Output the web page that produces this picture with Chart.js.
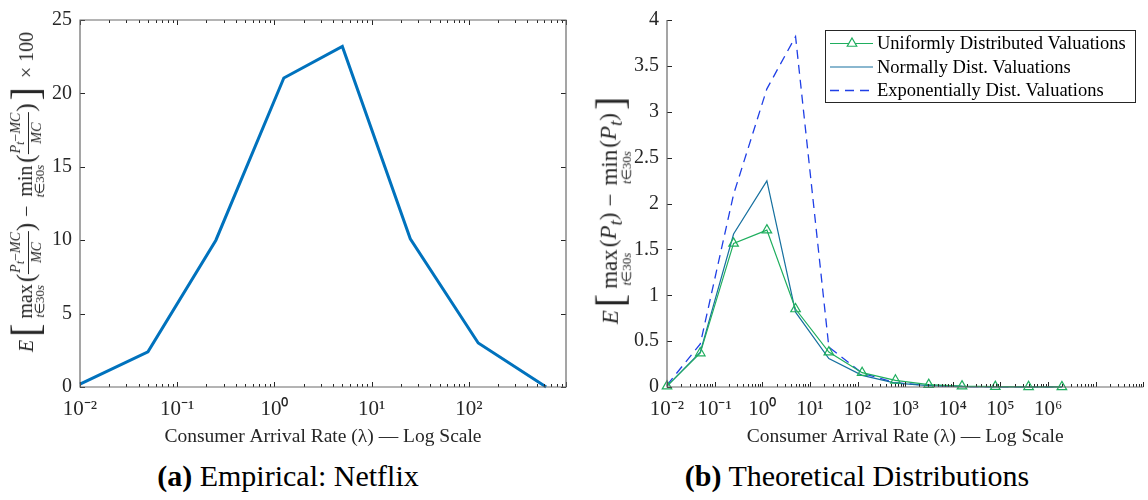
<!DOCTYPE html>
<html>
<head>
<meta charset="utf-8">
<script src="https://cdn.jsdelivr.net/npm/chart.js@4.4.0/dist/chart.umd.min.js"></script>
<style>
  body { margin: 0; width: 1148px; height: 500px; overflow: hidden; background: #fff; position: relative;
         font-family: 'Liberation Serif', serif; color: #262626; }
  .box { position: absolute; top: 0; height: 455px; }
  #boxA { left: 0; width: 574px; }
  #boxB { left: 574px; width: 576px; }
  .ylab { position: absolute; white-space: nowrap; display: flex; align-items: center; font-size: 20px;
          transform: translate(-50%, -50%) rotate(-90deg); }
  .op { display: inline-flex; flex-direction: column; align-items: center; line-height: 0.9; margin: 10px 2px 0 2px; }
  .lim { font-size: 13px; }
  .frac { display: inline-flex; flex-direction: column; align-items: center; font-size: 14px; line-height: 1.1; }
  .num { border-bottom: 1px solid #262626; padding: 0 1px; }
  .par { font-size: 25px; }
  .brk { font-size: 40px; line-height: 1; margin: 0 3px; }
  .sp { margin: 0 6px; }
  .r2 { font-size: 23px; }
  .cap { position: absolute; transform: translate(-50%, -50%); font-size: 30px; white-space: nowrap; color: #000; }
</style>
</head>
<body>
<div class="box" id="boxA"><canvas id="chartNetflix"></canvas></div>
<div class="box" id="boxB"><canvas id="chartTheory"></canvas></div>

<div class="ylab" style="left:26px;top:189px">
  <i>E</i><span class="brk">[</span>
  <span class="op">max<span class="lim"><i>t</i>∈30<i>s</i></span></span>
  <span class="par">(</span><span class="frac"><span class="num"><i>P<sub>t</sub></i>−<i>MC</i></span><span><i>MC</i></span></span><span class="par">)</span>
  <span class="sp">−</span>
  <span class="op">min<span class="lim"><i>t</i>∈30<i>s</i></span></span>
  <span class="par">(</span><span class="frac"><span class="num"><i>P<sub>t</sub></i>−<i>MC</i></span><span><i>MC</i></span></span><span class="par">)</span>
  <span class="brk">]</span><span class="sp">× 100</span>
</div>

<div class="ylab r2" style="left:611px;top:209px">
  <i>E</i><span class="brk">[</span>
  <span class="op">max<span class="lim"><i>t</i>∈30<i>s</i></span></span>
  <span>(<i>P<sub>t</sub></i>)</span>
  <span class="sp">−</span>
  <span class="op">min<span class="lim"><i>t</i>∈30<i>s</i></span></span>
  <span>(<i>P<sub>t</sub></i>)</span>
  <span class="brk">]</span>
</div>

<div class="cap" style="left:288px;top:476px"><b>(a)</b> Empirical: Netflix</div>
<div class="cap" style="left:857px;top:476px"><b>(b)</b> Theoretical Distributions</div>

<script>
const netflixRate = [0.01, 0.05, 0.25, 1.25, 5, 25, 125, 625];
const netflixSpread = [0.2, 2.4, 10.0, 21.05, 23.2, 10.1, 3.0, 0.0];

const theoryRate = [0.01, 0.05, 0.25, 1.25, 5, 25, 125, 625, 3125, 15625, 78125, 390625, 1953125];
const uniformSpread = [0.01, 0.37, 1.565, 1.71, 0.85, 0.38, 0.156, 0.073, 0.026, 0.009, 0.004, 0.002, 0.001];
const normalSpread = [0.01, 0.38, 1.667, 2.247, 0.815, 0.31, 0.127, 0.043, 0.015, 0.005, 0.002, 0.001, 0.0005];
const exponentialSpread = [0.02, 0.47, 2.1, 3.25, 3.82, 0.435, 0.15, 0.048, 0.017, 0.006, 0.002, 0.001, 0.0005];
const seriesNames = ["Uniformly Distributed Valuations", "Normally Dist. Valuations", "Exponentially Dist. Valuations"];

const xTickExpA = [-2, -1, 0, 1, 2];
const xTickExpB = [-2, -1, 0, 1, 2, 3, 4, 5, 6];
const yTicksA = [0, 5, 10, 15, 20, 25];
const yTicksB = [0, 0.5, 1, 1.5, 2, 2.5, 3, 3.5, 4];
const xTitle = "Consumer Arrival Rate (λ) — Log Scale";

Chart.defaults.font.family = "'Liberation Serif', serif";
Chart.defaults.color = "#262626";

const supMap = { "-": "⁻", "0": "⁰", "1": "¹", "2": "²", "3": "³", "4": "⁴", "5": "⁵", "6": "⁶", "7": "⁷", "8": "⁸", "9": "⁹" };
const powLabel = (v) => "10" + String(Math.round(Math.log10(v))).split("").map(c => supMap[c]).join("");
const pair = (xs, ys) => xs.map((x, i) => ({ x: x, y: ys[i] }));

// matlab-like inward ticks, minor ticks on the log axis, optional box
const inwardTicks = {
  id: "inwardTicks",
  afterDraw(chart, args, opts) {
    const { ctx, chartArea: a, scales: { x, y } } = chart;
    ctx.save();
    ctx.strokeStyle = "#262626";
    ctx.lineWidth = 1;
    ctx.beginPath();
    const e0 = Math.floor(Math.log10(x.min)), e1 = Math.ceil(Math.log10(x.max));
    for (let e = e0; e <= e1; e++) {
      for (let m = 1; m <= 9; m++) {
        const v = m * Math.pow(10, e);
        if (v < x.min * 0.999 || v > x.max * 1.001) continue;
        const px = Math.round(x.getPixelForValue(v)) + 0.5;
        const len = m === 1 ? 5 : 3;
        ctx.moveTo(px, a.bottom); ctx.lineTo(px, a.bottom - len);
        if (opts.box) { ctx.moveTo(px, a.top); ctx.lineTo(px, a.top + len); }
      }
    }
    y.ticks.forEach(t => {
      const py = Math.round(y.getPixelForValue(t.value)) + 0.5;
      ctx.moveTo(a.left, py); ctx.lineTo(a.left + 5, py);
      if (opts.box) { ctx.moveTo(a.right, py); ctx.lineTo(a.right - 5, py); }
    });
    ctx.stroke();
    ctx.strokeStyle = "#6a6a6a";
    ctx.lineWidth = 1.2;
    ctx.beginPath();
    if (opts.box) {
      ctx.rect(a.left, a.top, a.right - a.left, a.bottom - a.top);
    } else {
      ctx.moveTo(a.left, a.top); ctx.lineTo(a.left, a.bottom); ctx.lineTo(a.right, a.bottom);
    }
    ctx.stroke();
    ctx.restore();
  }
};

// legend with line samples and markers
const lineLegend = {
  id: "lineLegend",
  afterDraw(chart, args, o) {
    if (!o.show) return;
    const ctx = chart.ctx;
    ctx.save();
    ctx.fillStyle = "#fff";
    ctx.fillRect(o.x, o.y, o.w, o.h);
    ctx.strokeStyle = "#262626";
    ctx.lineWidth = 1;
    ctx.strokeRect(o.x + 0.5, o.y + 0.5, o.w, o.h);
    ctx.font = "18.5px 'Liberation Serif', serif";
    ctx.textBaseline = "middle";
    chart.data.datasets.forEach((ds, i) => {
      const cy = o.y + 13.5 + i * 23.5;
      ctx.strokeStyle = ds.borderColor;
      ctx.lineWidth = ds.borderWidth;
      ctx.setLineDash(ds.borderDash || []);
      ctx.beginPath(); ctx.moveTo(o.x + 5, cy); ctx.lineTo(o.x + 48, cy); ctx.stroke();
      ctx.setLineDash([]);
      if (ds.pointRadius > 0) {
        const r = ds.pointRadius, cx = o.x + 27;
        ctx.beginPath();
        ctx.moveTo(cx, cy - r);
        ctx.lineTo(cx + r * 0.866, cy + r * 0.5);
        ctx.lineTo(cx - r * 0.866, cy + r * 0.5);
        ctx.closePath();
        ctx.fillStyle = "#fff";
        ctx.fill();
        ctx.stroke();
      }
      ctx.fillStyle = "#000";
      ctx.fillText(ds.label, o.x + 52, cy + 1);
    });
    ctx.restore();
  }
};

function xAxis(maxV, exps) {
  return {
    type: "logarithmic",
    min: 0.01,
    max: maxV,
    grid: { display: false, drawTicks: false },
    border: { display: false },
    afterBuildTicks: (s) => { s.ticks = exps.map(e => ({ value: Math.pow(10, e) })); },
    ticks: { padding: 10, autoSkip: false, maxRotation: 0, font: { size: 21 }, callback: (v) => powLabel(v) },
    title: { display: true, text: xTitle, font: { size: 19.5 }, padding: { top: 0, bottom: 6 } },
    afterFit: (s) => { s.height = 68; }
  };
}

function yAxis(maxV, step, ticksArr, w) {
  return {
    min: 0,
    max: maxV,
    grid: { display: false, drawTicks: false },
    border: { display: false },
    afterBuildTicks: (s) => { s.ticks = ticksArr.map(v => ({ value: v })); },
    ticks: { padding: 8, font: { size: 20 }, callback: (v) => String(v) },
    afterFit: (s) => { s.width = w; }
  };
}

new Chart(document.getElementById("chartNetflix"), {
  type: "line",
  data: {
    datasets: [{
      label: "Netflix",
      data: pair(netflixRate, netflixSpread),
      borderColor: "#0072BD",
      borderWidth: 3,
      pointRadius: 0,
      tension: 0,
      clip: false
    }]
  },
  options: {
    responsive: true,
    maintainAspectRatio: false,
    animation: false,
    layout: { padding: { left: 0, right: 8, top: 14, bottom: 0 } },
    scales: { x: xAxis(1000, xTickExpA), y: yAxis(25, 5, yTicksA, 80) },
    plugins: { legend: { display: false }, tooltip: { enabled: false }, inwardTicks: { box: true }, lineLegend: { show: false } }
  },
  plugins: [inwardTicks, lineLegend]
});

new Chart(document.getElementById("chartTheory"), {
  type: "line",
  data: {
    datasets: [
      {
        label: seriesNames[0],
        data: pair(theoryRate, uniformSpread),
        borderColor: "#1fae5e",
        borderWidth: 1.2,
        pointStyle: "triangle",
        pointRadius: 5.5,
        pointBorderWidth: 1.2,
        pointBorderColor: "#1fae5e",
        pointBackgroundColor: "rgba(255,255,255,0)",
        tension: 0,
        clip: false
      },
      {
        label: seriesNames[1],
        data: pair(theoryRate, normalSpread),
        borderColor: "#16709f",
        borderWidth: 1.2,
        pointRadius: 0,
        tension: 0,
        clip: false
      },
      {
        label: seriesNames[2],
        data: pair(theoryRate, exponentialSpread),
        borderColor: "#1f3fe6",
        borderWidth: 1.3,
        borderDash: [9, 6],
        pointRadius: 0,
        tension: 0,
        clip: false
      }
    ]
  },
  options: {
    responsive: true,
    maintainAspectRatio: false,
    animation: false,
    layout: { padding: { left: 0, right: 1, top: 19, bottom: 0 } },
    scales: { x: xAxis(1e8, xTickExpB), y: yAxis(4, 0.5, yTicksB, 93) },
    plugins: {
      legend: { display: false },
      tooltip: { enabled: false },
      inwardTicks: { box: false },
      lineLegend: { show: true, x: 251, y: 30, w: 310, h: 72 }
    }
  },
  plugins: [inwardTicks, lineLegend]
});
</script>
</body>
</html>
